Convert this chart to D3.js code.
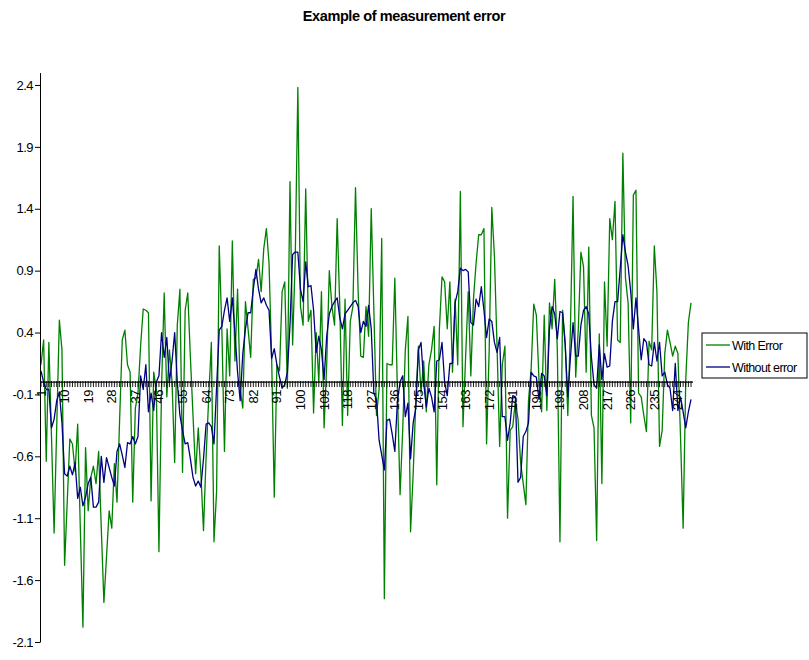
<!DOCTYPE html>
<html>
<head>
<meta charset="utf-8">
<script src="https://cdn.jsdelivr.net/npm/d3@7"></script>
<style>
  body { margin: 0; background: #fff; }
  text { font-family: "Liberation Sans", Arial, sans-serif; }
</style>
</head>
<body>
<div class="chart"></div>
<script>
// values
var withError = [
  0.14, 0.34, -0.64, 0.32, -0.44, -1.22, -0.36, 0.5, 0.26, -1.48,
  -0.97, -0.46, -0.5, -0.72, -0.34, -1.18, -1.98, -0.53, -1.04, -0.77,
  -0.68, -0.82, -0.56, -1.18, -1.78, -1.41, -1.04, -1.18, -0.66, -0.97,
  -0.3, 0.34, 0.42, 0.14, 0.08, -0.97, -0.21, -0.09, 0.29, 0.59,
  0.58, 0.56, -0.96, 0.08, -0.06, -1.37, -0.04, 0.72, -0.12, 0.26,
  0.0, -0.65, 0.46, 0.75, -0.73, 0.58, 0.72, 0.2, -0.27, -0.74,
  -0.37, -0.74, -1.2, -0.6, -0.12, 0.32, -1.29, -0.88, 1.1, 0.43,
  -0.56, 0.43, 0.05, 1.14, 0.17, 0.75, -0.06, -0.21, 0.65, 0.43,
  0.2, 0.83, 0.84, 0.99, 0.73, 1.08, 1.24, 0.96, 0.2, -0.93,
  0.14, 0.09, 0.73, 0.81, -0.05, 1.62, 0.3, 1.0, 2.38, 0.61,
  0.46, 1.56, 0.49, 0.58, -0.25, 0.4, 0.0, 0.73, -0.37, 0.14,
  0.9, 0.61, 0.46, 1.32, 0.61, -0.35, 0.67, -0.27, 0.49, 0.61,
  1.57, 0.73, 0.21, 0.2, 0.61, 0.37, 1.4, 0.58, -0.27, -0.06,
  1.16, -1.75, 0.15, 0.14, 0.14, 0.84, -0.09, -0.91, -0.39, 0.26,
  0.53, -1.21, -0.74, -0.15, 0.29, -0.09, 0.17, -0.24, 0.14, 0.26,
  0.45, -0.83, 0.43, 0.85, 0.81, 0.43, 0.81, 0.08, 0.67, 0.14,
  1.54, -0.36, 0.2, 0.73, 0.05, 0.67, 0.96, 1.19, 1.19, 1.24,
  -0.5, 0.26, 1.41, 1.02, 0.29, -0.52, 0.14, 0.29, -1.1, -0.39,
  -0.36, -0.15, -0.3, -0.65, -0.82, -0.99, -0.15, 0.1, 0.63, 0.54,
  0.02, -0.24, 0.54, -0.23, 0.64, 0.43, 0.83, 0.26, -1.29, 0.58,
  0.32, -0.27, 0.43, 1.5, 0.04, 0.43, 1.05, 0.93, 0.08, 1.09,
  -0.27, -0.37, -1.28, 0.39, -0.82, 0.81, 0.29, 1.32, 1.15, 1.46,
  0.34, 0.32, 1.85, 0.84, 0.64, -0.33, 1.51, 1.55, -0.09, -0.12,
  -0.27, -0.4, 0.33, 0.26, 1.1, 0.73, -0.52, -0.39, 0.23, 0.42,
  0.32, 0.21, 0.29, 0.23, -0.44, -1.18, 0.02, 0.48, 0.64
];
var withoutError = [
  0.09, 0.0, -0.06, -0.06, -0.37, -0.3, -0.15, -0.08, -0.33, -0.74,
  -0.76, -0.68, -0.75, -0.65, -0.94, -0.85, -1.0, -0.93, -0.82, -0.77,
  -1.01, -1.01, -0.97, -0.6, -0.81, -0.61, -0.69, -0.77, -0.84, -0.56,
  -0.5, -0.59, -0.69, -0.49, -0.5, -0.44, -0.5, -0.44, 0.05, -0.06,
  0.14, -0.24, -0.09, -0.23, 0.0, 0.05, 0.4, 0.2, 0.36, 0.0,
  0.17, 0.4, 0.0, -0.27, -0.39, -0.5, -0.49, -0.62, -0.77, -0.84,
  -0.8, -0.85, -0.62, -0.34, -0.33, -0.36, -0.5, -0.04, 0.42, 0.45,
  0.58, 0.68, 0.49, 0.68, 0.4, 0.08, -0.15, 0.23, 0.43, 0.56,
  0.56, 0.75, 0.91, 0.75, 0.64, 0.68, 0.62, 0.58, 0.19, 0.27,
  0.14, 0.04, -0.05, -0.02, 0.08, 0.46, 1.03, 1.05, 1.05, 0.75,
  0.65, 0.97, 0.77, 0.78, 0.58, 0.24, 0.37, 0.26, 0.02, 0.37,
  0.55, 0.61, 0.65, 0.68, 0.52, 0.43, 0.55, 0.58, 0.61, 0.64,
  0.66, 0.61, 0.4, 0.49, 0.45, 0.62, 0.43, -0.09, -0.14, -0.47,
  -0.59, -0.71, -0.31, -0.3, -0.42, -0.56, -0.15, 0.0, 0.05, -0.28,
  -0.17, -0.62, -0.33, -0.21, 0.26, 0.32, 0.0, -0.2, -0.05, -0.12,
  -0.24, 0.17, 0.18, 0.32, 0.0, -0.11, 0.15, 0.15, 0.64, 0.73,
  0.92, 0.9, 0.91, 0.89, 0.48, 0.46, 0.67, 0.61, 0.77, 0.58,
  0.36, 0.51, 0.49, 0.32, 0.24, 0.36, -0.28, -0.28, -0.47, -0.33,
  -0.11, -0.12, -0.81, -0.77, -0.44, -0.4, -0.33, 0.08, 0.05, 0.04,
  -0.14, 0.07, 0.05, -0.11, 0.43, 0.61, 0.55, 0.35, 0.57, 0.56,
  0.3, -0.12, 0.2, 0.48, 0.21, 0.21, 0.46, 0.58, 0.61, 0.55,
  0.2, -0.02, -0.05, 0.3, 0.02, 0.23, 0.12, 0.13, 0.49, 0.65,
  0.65, 0.92, 1.19, 1.05, 0.94, 0.73, 0.43, 0.68, 0.43, 0.18,
  0.35, 0.32, 0.14, 0.13, 0.32, 0.17, 0.32, 0.05, 0.08, -0.02,
  -0.05, -0.23, 0.15, -0.23, -0.12, -0.24, -0.37, -0.24, -0.14
];
var categories = d3.range(1, withError.length + 1);
var xTickLabels = categories.filter(function(c) { return (c - 1) % 9 === 0; });
var yTicks = [-2.1, -1.6, -1.1, -0.6, -0.1, 0.4, 0.9, 1.4, 1.9, 2.4];
var seriesNames = ["With Error", "Without error"];
var seriesColors = ["#008000", "#000080"];

var svg = d3.select(".chart").append("svg")
            .attr("width", 809)
            .attr("height", 660);

var x = d3.scaleLinear().domain([1, categories.length]).range([41, 691]);
var y = d3.scaleLinear().domain([-2.1, 2.5]).range([642, 72.6]);

svg.append("text")
   .attr("x", 404).attr("y", 21)
   .attr("text-anchor", "middle")
   .attr("font-size", "14.5px")
   .attr("font-weight", "bold")
   .attr("letter-spacing", "-0.4px")
   .text("Example of measurement error");

// series lines
var line = d3.line()
             .x(function(d, i) { return x(categories[i]); })
             .y(function(d) { return y(d); });

[withError, withoutError].forEach(function(s, k) {
  svg.append("path")
     .datum(s)
     .attr("fill", "none")
     .attr("stroke", seriesColors[k])
     .attr("stroke-width", 1.3)
     .attr("stroke-linejoin", "round")
     .attr("d", line);
});

// y axis
var yAxis = svg.append("g")
               .attr("transform", "translate(40,0)")
               .call(d3.axisLeft(y).tickValues(yTicks).tickSize(5).tickSizeOuter(0)
                       .tickFormat(function(d) { return d.toFixed(1); }));
yAxis.select(".domain").attr("stroke", "#000");
yAxis.selectAll(".tick line").attr("stroke", "#000");
yAxis.selectAll(".tick text")
     .attr("font-family", "Liberation Sans, Arial, sans-serif")
     .attr("font-size", "13px")
     .attr("letter-spacing", "-0.5px")
     .attr("fill", "#000")
     .attr("x", -7);

// x axis at zero
var y0 = y(0);
var xg = svg.append("g");
xg.append("line")
  .attr("x1", 40).attr("x2", 693)
  .attr("y1", y0).attr("y2", y0)
  .attr("stroke", "#000").attr("stroke-width", 1.2);
xg.selectAll("line.tk").data(categories).enter().append("line")
  .attr("class", "tk")
  .attr("x1", function(d) { return x(d); })
  .attr("x2", function(d) { return x(d); })
  .attr("y1", y0 - 1).attr("y2", y0 + 5)
  .attr("stroke", "#000").attr("stroke-width", 0.9);
xg.selectAll("text").data(xTickLabels).enter().append("text")
  .attr("transform", function(d) { return "translate(" + (x(d) + 4.5) + "," + (y0 + 8) + ") rotate(-90)"; })
  .attr("text-anchor", "end")
  .attr("font-size", "13px")
  .attr("letter-spacing", "-0.5px")
  .attr("fill", "#000")
  .text(function(d) { return d; });

// legend
var lg = svg.append("g").attr("transform", "translate(702,333)");
lg.append("rect")
  .attr("width", 105).attr("height", 45)
  .attr("fill", "#fff").attr("stroke", "#000").attr("stroke-width", 1);
seriesNames.forEach(function(n, k) {
  lg.append("line")
    .attr("x1", 4).attr("x2", 28)
    .attr("y1", 12 + k * 22).attr("y2", 12 + k * 22)
    .attr("stroke", seriesColors[k]).attr("stroke-width", 1.3);
  lg.append("text")
    .attr("x", 30).attr("y", 16.5 + k * 22)
    .attr("font-size", "12.5px")
    .attr("letter-spacing", "-0.6px")
    .text(n);
});
</script>
</body>
</html>
